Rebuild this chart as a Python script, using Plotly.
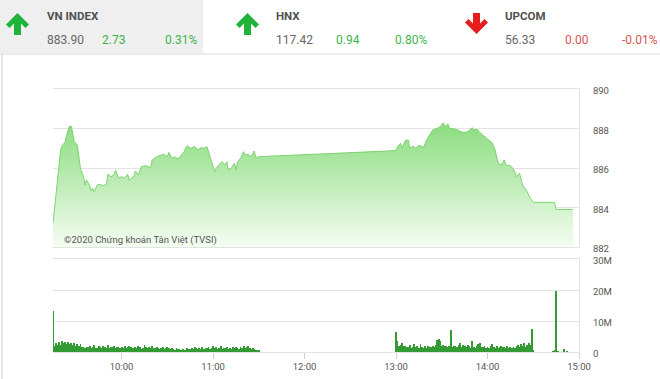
import plotly.graph_objects as go
import pandas as pd

DAY = "2020-06-01 "

# ---------------- data ----------------
price_times = [
    "09:15", "09:17", "09:18", "09:20", "09:21", "09:23", "09:24", "09:25:30", "09:27", "09:28",
    "09:29", "09:31", "09:32", "09:33", "09:35", "09:36", "09:37", "09:39", "09:40", "09:41",
    "09:42", "09:44", "09:46", "09:48", "09:50", "09:51", "09:53", "09:55", "09:56", "09:58",
    "10:00", "10:02", "10:04", "10:05", "10:08", "10:09", "10:11", "10:13", "10:16", "10:19",
    "10:20", "10:22", "10:23", "10:26", "10:28", "10:30", "10:31", "10:33", "10:35", "10:37",
    "10:39", "10:41", "10:43", "10:45", "10:48", "10:50", "10:52", "10:54", "10:56", "10:57",
    "10:59", "11:01", "11:02", "11:04", "11:06", "11:08", "11:09", "11:10", "11:12", "11:14",
    "11:15", "11:16", "11:18", "11:20", "11:21", "11:23", "11:25", "11:27", "11:28", "11:30",
    "13:00", "13:01", "13:03", "13:04", "13:06", "13:08", "13:09", "13:11", "13:13", "13:15",
    "13:17", "13:18", "13:20", "13:22", "13:24", "13:27", "13:29", "13:31", "13:32", "13:34",
    "13:35", "13:39", "13:42", "13:44", "13:47", "13:50", "13:51", "13:53", "13:56", "13:58",
    "14:00", "14:03", "14:05", "14:06", "14:07", "14:09", "14:11", "14:12", "14:15", "14:17",
    "14:19", "14:21", "14:22", "14:23", "14:26", "14:28", "14:30", "14:44", "14:45", "14:56",
]
price_values = [
    883.20, 884.63, 885.48, 886.91, 887.13, 887.33, 887.67, 888.09, 888.12, 887.76,
    887.33, 887.16, 886.49, 885.98, 885.56, 885.14, 885.39, 885.10, 884.84, 884.97,
    884.80, 885.14, 885.17, 885.10, 885.17, 885.68, 885.56, 885.65, 885.90, 885.48,
    885.56, 885.48, 885.68, 885.39, 885.56, 885.85, 885.65, 886.07, 886.12, 886.01,
    886.40, 886.49, 886.57, 886.66, 886.69, 886.57, 886.79, 886.49, 886.57, 886.45,
    886.66, 886.83, 887.13, 887.00, 887.08, 886.91, 887.03, 887.00, 887.08, 886.83,
    886.32, 885.81, 885.98, 886.19, 886.32, 886.15, 886.32, 885.90, 886.01, 886.24,
    885.90, 886.32, 886.49, 886.83, 886.66, 886.69, 886.57, 886.86, 886.52, 886.57,
    886.88, 887.08, 887.25, 887.00, 887.38, 887.42, 887.00, 887.11, 887.00, 887.16,
    887.08, 887.05, 887.42, 887.67, 887.92, 888.01, 888.09, 888.29, 888.09, 888.23,
    888.01, 887.97, 887.87, 887.79, 887.84, 888.04, 887.92, 887.97, 887.72, 887.58,
    887.45, 887.28, 886.91, 886.57, 886.24, 886.15, 886.41, 886.15, 886.12, 885.95,
    885.56, 885.73, 885.39, 885.14, 884.80, 884.47, 884.26, 884.26, 883.90, 883.90,
]

# per-minute volume, millions of shares
vol_morning = [
    13.2,
    2.0, 3.0, 2.4, 3.3, 2.2, 3.5, 2.8, 3.2, 2.5, 3.1, 2.6, 3.0, 2.2, 2.9, 2.0, 2.6, 1.8, 2.5, 1.5, 1.7,
    1.4, 1.6, 1.5, 2.0, 1.3, 1.6, 2.4, 1.2, 1.4, 2.0, 1.5, 1.3, 1.8, 1.6, 1.2, 2.2, 1.4, 1.6, 1.5, 1.9,
    1.3, 1.5, 1.7, 1.4, 1.6,
    1.3, 1.8, 1.4, 1.5, 2.0, 1.6, 1.2, 1.4, 1.7, 1.3, 1.9, 1.5, 1.1, 1.4, 2.4, 1.6, 1.3, 1.5, 1.2, 1.8,
    1.4, 1.3, 1.6, 1.2, 1.0, 1.4, 1.5, 1.1, 1.3, 1.6,
    1.2, 0.9, 1.4, 1.0, 0.8, 1.3, 1.1, 0.9, 0.7, 1.0, 0.6, 0.8, 1.2, 0.9, 1.1, 1.3, 1.0, 1.5, 1.2, 0.9,
    1.4, 1.1, 1.6, 1.0, 1.3, 1.2, 1.7, 1.1, 1.4, 2.0,
    1.2, 1.5, 1.0, 1.3, 1.8, 1.1, 1.4, 1.2, 1.6, 0.9, 1.3, 1.1, 1.5, 1.2, 1.7, 1.3, 1.0, 1.6, 1.4, 1.9,
    1.3, 1.5, 1.8, 1.2, 1.0, 1.3, 0.9, 0.7, 0.6, 0.5,
]
vol_afternoon = [
    6.5,
    3.5, 2.0, 2.2, 2.8, 1.8, 2.0, 1.6, 1.5, 2.3, 1.4, 1.7, 2.5, 1.6, 1.9, 1.3,
    2.6, 1.5, 1.2, 1.8, 1.4, 2.0, 1.6, 1.5, 1.9, 1.7, 2.1, 4.0, 4.1, 3.5, 1.8,
    2.2, 2.0, 1.8, 1.5, 1.9, 7.2, 1.6, 1.8, 2.0, 1.5, 2.4, 2.8, 1.7, 2.2, 1.9,
    1.5, 2.1, 1.8, 1.4, 3.5, 1.6, 1.3, 1.9, 2.5, 2.8, 1.7, 1.5, 1.8, 1.2, 1.6,
    1.4, 1.9, 2.6, 1.5, 1.3, 1.8, 1.4, 1.6, 2.0, 1.7, 1.5, 1.3, 1.9, 1.4, 1.6,
    1.2, 1.5, 1.3, 1.8, 2.2, 1.6, 2.5, 1.9, 2.8, 1.7, 2.4, 3.0, 2.1, 7.5, 0.4,
]
vol_late_times = ["14:43", "14:44", "14:45", "14:46", "14:50", "14:52"]
vol_late = [0.2, 0.4, 19.8, 0.3, 1.0, 0.3]

price_ticks = [882, 884, 886, 888, 890]
vol_ticks = [0, 10, 20, 30]
vol_tick_text = ["0", "10M", "20M", "30M"]
hour_ticks = ["10:00", "11:00", "12:00", "13:00", "14:00", "15:00"]

header = [
    # name, last, change, pct, direction
    ("VN INDEX", "883.90", "2.73", "0.31%", "up"),
    ("HNX", "117.42", "0.94", "0.80%", "up"),
    ("UPCOM", "56.33", "0.00", "-0.01%", "down"),
]

# ---------------- layout geometry ----------------
W, H = 660, 379
ML, MR, MT, MB = 53, 81, 89, 27
PW = W - ML - MR
PH = H - MT - MB


def px(x):
    return (x - ML) / PW


def py(y):
    return (H - MB - y) / PH


FONT = "Roboto, sans-serif"
GREEN_TXT = "#3cb44a"
RED_TXT = "#d9534f"
GRID = "#e3e3e3"

ptimes = [pd.Timestamp(DAY + t) for t in price_times]
vm_times = list(pd.date_range(DAY + "09:15", periods=len(vol_morning), freq="min"))
va_times = list(pd.date_range(DAY + "13:00", periods=len(vol_afternoon), freq="min"))
vl_times = [pd.Timestamp(DAY + t) for t in vol_late_times]

fig = go.Figure()
fig.add_trace(go.Scatter(
    x=ptimes, y=price_values, mode="lines",
    line=dict(color="#7dd36f", width=1),
    fill="tozeroy",
    fillgradient=dict(type="vertical", start=882, stop=888.3,
                      colorscale=[[0, "rgb(244,253,242)"], [1, "rgb(138,220,126)"]]),
    xaxis="x", yaxis="y", hoverinfo="skip", showlegend=False,
))
fig.add_trace(go.Bar(
    x=vm_times + va_times + vl_times,
    y=vol_morning + vol_afternoon + vol_late,
    width=34000,
    marker=dict(color="rgb(52,155,52)", line=dict(width=0)),
    xaxis="x2", yaxis="y2", hoverinfo="skip", showlegend=False,
))

xr = [pd.Timestamp(DAY + "09:15"), pd.Timestamp(DAY + "15:00")]
fig.update_layout(
    width=W, height=H, autosize=False,
    margin=dict(l=ML, r=MR, t=MT, b=MB, pad=0, autoexpand=False),
    paper_bgcolor="white", plot_bgcolor="white",
    font=dict(family=FONT, size=9, color="#555"),
    xaxis=dict(domain=[0, 1], range=xr, type="date", anchor="y", automargin=False,
               showticklabels=False, ticks="", showgrid=False,
               showline=True, mirror=True, linecolor=GRID, linewidth=1, zeroline=False),
    yaxis=dict(domain=[py(247), 1], range=[882, 890], side="right", anchor="x", automargin=False,
               tickvals=price_ticks, ticks="", ticklabelstandoff=11, ticklabelshift=2,
               showgrid=True, gridcolor=GRID, gridwidth=1,
               showline=True, linecolor=GRID, linewidth=1, zeroline=False,
               tickfont=dict(family=FONT, size=9.5, color="#555")),
    xaxis2=dict(domain=[0, 1], range=xr, type="date", anchor="y2", matches="x", automargin=False,
                tickvals=[pd.Timestamp(DAY + t) for t in hour_ticks], ticktext=hour_ticks,
                ticks="outside", ticklen=6, tickcolor="#d0d0d0",
                showgrid=False, showline=True, mirror=True, linecolor=GRID, linewidth=1,
                zeroline=False, tickfont=dict(family=FONT, size=9.5, color="#555")),
    yaxis2=dict(domain=[0, py(259)], range=[0, 30], side="right", anchor="x2", automargin=False,
                tickvals=vol_ticks, ticktext=vol_tick_text, ticks="", ticklabelstandoff=11,
                ticklabelshift=2,
                showgrid=True, gridcolor=GRID, gridwidth=1,
                showline=True, linecolor=GRID, linewidth=1, zeroline=False,
                tickfont=dict(family=FONT, size=9.5, color="#555")),
    bargap=0,
)

shapes = []
# header background for the selected index
shapes.append(dict(type="rect", xref="paper", yref="paper", layer="below",
                   x0=px(0), x1=px(203), y0=py(53), y1=py(0),
                   fillcolor="#efefef", line=dict(width=0)))
# header separator and outer left border
shapes.append(dict(type="line", xref="paper", yref="paper",
                   x0=px(0), x1=px(660), y0=py(54), y1=py(54),
                   line=dict(color="#e6e6e6", width=1.5)))
shapes.append(dict(type="line", xref="paper", yref="paper",
                   x0=px(2), x1=px(2), y0=py(54), y1=py(379),
                   line=dict(color="#dddddd", width=1.5)))


def poly(points):
    return "M " + " L ".join(f"{px(a):.5f},{py(b):.5f}" for a, b in points) + " Z"


def up_arrow(cx):
    return [(cx, 13), (cx + 11.5, 24.5), (cx + 8, 28), (cx + 3.5, 23.5), (cx + 3.5, 35),
            (cx - 3.5, 35), (cx - 3.5, 23.5), (cx - 8, 28), (cx - 11.5, 24.5)]


def down_arrow(cx):
    return [(cx, 34), (cx + 11.5, 22.5), (cx + 8, 19), (cx + 3.5, 23.5), (cx + 3.5, 13),
            (cx - 3.5, 13), (cx - 3.5, 23.5), (cx - 8, 19), (cx - 11.5, 22.5)]


annotations = []
block_x = [(17.5, 45, 100, 163), (247.5, 274, 334, 393), (476.5, 503, 563, 620)]
for (name, last, chg, pct, d), (ax, tx, cx, pcx) in zip(header, block_x):
    if d == "up":
        shapes.append(dict(type="path", xref="paper", yref="paper", path=poly(up_arrow(ax)),
                           fillcolor="#1fb33a", line=dict(width=0)))
        col = GREEN_TXT
    else:
        shapes.append(dict(type="path", xref="paper", yref="paper", path=poly(down_arrow(ax)),
                           fillcolor="#e61e1e", line=dict(width=0)))
        col = RED_TXT
    annotations.append(dict(x=px(tx), y=py(16), xref="paper", yref="paper", text=f"<b>{name}</b>",
                            showarrow=False, xanchor="left", yanchor="middle",
                            font=dict(family=FONT, size=11.5, color="#505050")))
    annotations.append(dict(x=px(tx), y=py(40), xref="paper", yref="paper", text=last,
                            showarrow=False, xanchor="left", yanchor="middle",
                            font=dict(family=FONT, size=12, color="#666")))
    annotations.append(dict(x=px(cx), y=py(40), xref="paper", yref="paper", text=chg,
                            showarrow=False, xanchor="left", yanchor="middle",
                            font=dict(family=FONT, size=12, color=col)))
    annotations.append(dict(x=px(pcx), y=py(40), xref="paper", yref="paper", text=pct,
                            showarrow=False, xanchor="left", yanchor="middle",
                            font=dict(family=FONT, size=12, color=col)))

annotations.append(dict(x=px(61.5), y=py(239.5), xref="paper", yref="paper",
                        text="©2020 Chứng khoán Tân Việt (TVSI)", showarrow=False,
                        xanchor="left", yanchor="middle",
                        font=dict(family=FONT, size=9.5, color="#555")))

fig.update_layout(shapes=shapes, annotations=annotations)
fig.write_html("out.html", config={"displayModeBar": False},
               post_script="document.body.style.margin='0';document.body.style.padding='0';")
